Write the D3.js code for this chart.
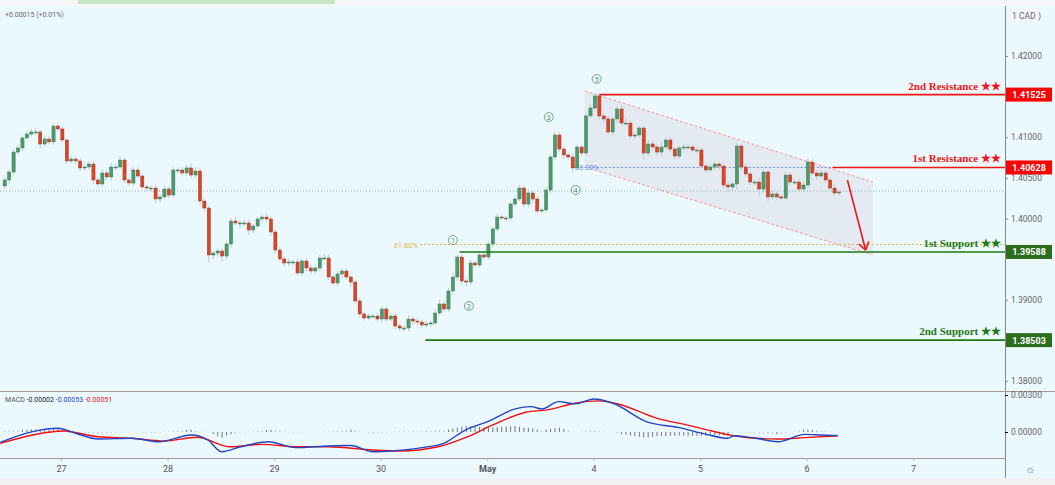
<!DOCTYPE html>
<html><head><meta charset="utf-8">
<script src="https://cdn.jsdelivr.net/npm/d3@7/dist/d3.min.js"></script>
<style>body{margin:0;background:#fff}svg{display:block}</style></head>
<body><svg id="c" width="1055" height="485"></svg>
<script>
const firstOpen = 1.40400;
const closes = [1.40474,1.40572,1.40818,1.40868,1.40991,1.41040,1.41065,1.41065,1.40917,1.40978,1.40942,1.41138,1.41102,1.40966,1.40708,1.40732,1.40708,1.40622,1.40634,1.40671,1.40474,1.40425,1.40560,1.40511,1.40634,1.40634,1.40720,1.40474,1.40437,1.40597,1.40523,1.40388,1.40375,1.40375,1.40240,1.40265,1.40363,1.40289,1.40597,1.40597,1.40560,1.40622,1.40535,1.40585,1.40215,1.40129,1.39551,
1.39575,1.39600,1.39538,1.39686,1.39969,1.39945,1.39945,1.39945,1.39858,1.39908,1.39994,1.40018,1.39994,1.39834,1.39612,1.39502,1.39452,1.39465,1.39465,1.39329,1.39477,1.39391,1.39354,1.39391,1.39514,1.39514,1.39280,1.39206,1.39317,1.39354,1.39280,1.39218,1.38985,1.38825,1.38775,1.38800,1.38800,1.38763,1.38886,1.38763,1.38800,1.38677,1.38652,1.38652,1.38763,1.38738,1.38726,1.38689,1.38702,1.38714,1.38837,1.38948,
1.38886,1.39108,1.39280,1.39526,1.39231,1.39218,1.39452,1.39428,1.39551,1.39526,1.39686,1.39871,1.40018,1.40006,1.40006,1.40178,1.40240,1.40375,1.40178,1.40314,1.40240,1.40092,1.40105,1.40351,1.40757,1.41028,1.40855,1.40782,1.40757,1.40622,1.40880,1.40806,1.41262,1.41360,
1.41508,1.41262,1.41225,1.41065,1.41225,1.41348,1.41175,1.41175,1.41015,1.41028,1.41114,1.40806,1.40917,1.40880,1.40818,1.40880,1.40966,1.40855,1.40769,1.40868,1.40880,1.40880,1.40843,1.40843,1.40646,1.40597,1.40634,1.40671,1.40646,1.40412,1.40388,1.40425,1.40892,1.40634,1.40548,1.40449,1.40449,1.40363,1.40572,1.40265,1.40302,1.40265,1.40252,1.40535,1.40449,1.40449,1.40363,1.40412,1.40695,1.40560,1.40523,1.40560,1.40474,1.40375,1.40314,1.40326];
// wick extensions beyond the body, in pips (0.0001)
const wickUp = [3,4,3,4,3,4,4,5,3,4,3,3,4,4,3,4,3,4,3,4,3,3,4,3,5,4,5,3,3,4,4,3,3,3,4,4,4,3,4,3,4,4,5,5,3,3,3,
3,3,3,4,4,5,3,4,4,3,3,3,4,3,3,4,3,4,3,4,3,4,4,3,4,5,4,3,4,3,3,3,3,4,3,3,3,4,3,3,4,3,3,4,5,3,4,3,4,3,5,6,
4,4,5,3,3,3,4,3,4,4,3,3,4,3,3,3,4,4,4,5,3,3,3,4,3,4,3,3,3,4,3,3,4,4,
2,3,3,4,3,3,5,6,3,3,3,3,5,4,3,5,3,4,3,3,4,3,3,3,3,3,3,3,3,3,4,3,4,3,3,3,3,5,4,3,4,3,3,4,3,3,4,4,5,3,3,4,3,3,4,3];
const wickDn = [4,5,4,3,4,3,3,4,5,4,3,3,3,3,4,3,4,4,3,3,5,4,3,4,5,4,3,4,3,4,3,3,3,4,5,4,3,4,3,4,3,3,4,3,4,4,9,
5,5,7,4,5,3,7,4,6,4,3,4,3,4,4,3,5,4,4,3,4,4,4,3,4,3,4,3,4,5,4,6,3,4,3,3,3,3,4,3,3,4,4,4,4,5,4,4,3,4,3,3,
4,4,4,5,4,6,4,3,3,3,3,4,3,3,4,3,3,3,4,4,5,3,3,3,4,3,4,5,4,6,3,4,3,3,
3,4,5,4,4,5,3,4,4,4,3,8,4,5,4,4,3,4,4,3,3,3,3,3,3,4,3,4,4,4,6,4,7,4,3,4,4,9,4,5,3,4,3,3,4,3,4,4,4,3,4,3,4,3,4,3];
const dayLabels = ["27","28","29","30","May","4","5","6","7"];
const dayIndex = [12.7,36.7,60.7,84.7,108.7,132.7,156.7,180.7,204.7];
const priceTicks = [1.42,1.41,1.405,1.40,1.39,1.38];
const macdPts = [[-1,-0.00084],[6.3,0.00003],[12,0.0003],[16,-0.0001],[21,-0.00057],[28.6,-0.00051],[34.7,-0.00079],[42.1,-0.00024],[45.8,-0.00065],[48.9,-0.0016],[53.2,-0.0012],[59.4,-0.00079],[65.6,-0.00127],[73,-0.00114],[78,-0.0011],[82.9,-0.0016],[87.8,-0.00152],[94,-0.00127],[98.9,-0.00092],[103.8,0.00016],[108.8,0.00084],[115,0.00187],[118.6,0.00206],[121,0.00187],[124.8,0.00246],[128.5,0.00228],[132.8,0.00268],[137.1,0.00233],[144.6,0.00084],[152,0.00035],[158.1,-0.00019],[163,-0.00051],[164.3,-0.0003],[169.2,-0.00051],[174.2,-0.00079],[180.3,-0.00019],[184,-0.00024],[187.7,-0.0003]];
const signalPts = [[-1,-0.00092],[6.3,-0.00024],[13.1,0.00008],[21,-0.00038],[28.6,-0.00051],[35.9,-0.00073],[43.4,-0.00043],[50.8,-0.0012],[58.2,-0.001],[65.6,-0.0012],[73,-0.0012],[82.9,-0.00146],[89,-0.00154],[97.7,-0.0012],[103.8,-0.00046],[110,0.00057],[117.4,0.0016],[122.3,0.00179],[128.5,0.00233],[134,0.00252],[138.4,0.00225],[147,0.00111],[154.4,0.00052],[159.4,0.00008],[164.3,-0.0003],[174.2,-0.00057],[180.3,-0.00046],[187.7,-0.0003]];
const levels = [
 {name:"2nd Resistance ★★", price:1.41525, from:134, color:"#f01414"},
 {name:"1st Resistance ★★", price:1.40628, from:186.5, color:"#f01414"},
 {name:"1st Support ★★", price:1.39588, from:102.5, color:"#1e7a12"},
 {name:"2nd Support ★★", price:1.38503, from:94.8, color:"#1e7a12"}];
const fibPrice = 1.39680, fibLabel = "61.80%";
const fib2Price = 1.40628, fib2Label = "38.20%";
const lastPrice = 1.40338;
const waves = [["1",101,1.39735],["2",104.6,1.38923],["3",122.6,1.41249],["4",128.7,1.40351],["5",133.4,1.41717]];
const channel = {x0:130.7, x1:195.6, top0:1.41569, top1:1.40449, bot0:1.40634, bot1:1.39551};
const arrow = {x0:189.9, p0:1.40474, x1:194, p1:1.39612};

const svg = d3.select("#c");
const X = d3.scaleLinear().domain([0,188]).range([4.7,839]);
const Y = d3.scaleLinear().domain([1.38,1.42]).range([381,56]);
const M = d3.scaleLinear().domain([0,0.003]).range([432,395]);

svg.append("rect").attr("width",1055).attr("height",485).attr("fill","#f4f6f7");
svg.append("rect").attr("x",0).attr("y",6).attr("width",1055).attr("height",472).attr("fill","#ebf8fe");
svg.append("rect").attr("x",78).attr("y",0).attr("width",257).attr("height",4).attr("fill","#c5e6c3");
svg.append("rect").attr("x",0).attr("y",478).attr("width",1055).attr("height",7).attr("fill","#f0f1f2");

svg.append("defs").append("clipPath").attr("id","mc").append("rect").attr("x",0).attr("y",6).attr("width",1005).attr("height",385);
const g = svg.append("g").attr("clip-path","url(#mc)");

const chPoly = [[channel.x0,channel.top0],[channel.x1,channel.top1],[channel.x1,channel.bot1],[channel.x0,channel.bot0]];
g.append("path").attr("d","M"+chPoly.map(d=>X(d[0])+","+Y(d[1])).join("L")+"Z").attr("fill","#e2e5ee").attr("opacity",0.75);
[[0,1],[3,2]].forEach(([a,b])=>g.append("line").attr("x1",X(chPoly[a][0])).attr("y1",Y(chPoly[a][1])).attr("x2",X(chPoly[b][0])).attr("y2",Y(chPoly[b][1])).attr("stroke","#f59a9a").attr("stroke-width",1).attr("stroke-dasharray","3,2"));

g.append("line").attr("x1",0).attr("x2",1005).attr("y1",Y(lastPrice)).attr("y2",Y(lastPrice)).attr("stroke","#8fb0a8").attr("stroke-dasharray","1,2");
g.append("line").attr("x1",420).attr("x2",1005).attr("y1",Y(fibPrice)).attr("y2",Y(fibPrice)).attr("stroke","#d9b84a").attr("stroke-dasharray","2,2");
g.append("text").attr("x",418).attr("y",Y(fibPrice)+3).attr("text-anchor","end").attr("font-size",7.5).attr("font-family","Roboto").attr("fill","#d9b84a").text(fibLabel);
g.append("line").attr("x1",X(128)).attr("x2",X(186.5)).attr("y1",Y(fib2Price)).attr("y2",Y(fib2Price)).attr("stroke","#6b8fd8").attr("stroke-dasharray","2,2");
g.append("text").attr("x",X(128)+2).attr("y",Y(fib2Price)+2.5).attr("font-size",7.5).attr("font-family","Roboto").attr("fill","#6b9ae0").text(fib2Label);

const data = closes.map((c,i)=>{const o=i?closes[i-1]:firstOpen;return {i,o,c,h:Math.max(o,c)+wickUp[i]*0.0001,l:Math.min(o,c)-wickDn[i]*0.0001};});
const cg = g.selectAll(".cd").data(data).join("g");
cg.append("line").attr("x1",d=>X(d.i)).attr("x2",d=>X(d.i)).attr("y1",d=>Y(d.h)).attr("y2",d=>Y(d.l)).attr("stroke","#c2cacd").attr("stroke-width",1);
cg.append("rect").attr("x",d=>X(d.i)-1.6).attr("width",3.2).attr("y",d=>Y(Math.max(d.o,d.c))).attr("height",d=>Math.max(1,Math.abs(Y(d.o)-Y(d.c))))
  .attr("fill",d=>d.c>=d.o?"#4f9a6c":"#d9472b").attr("stroke",d=>d.c>=d.o?"#2f6e44":"#9c2a16").attr("stroke-width",0.4);

levels.forEach(l=>{
  g.append("line").attr("x1",X(l.from)).attr("x2",1005).attr("y1",Y(l.price)).attr("y2",Y(l.price)).attr("stroke",l.color).attr("stroke-width",1.6);
  g.append("text").attr("x",1001).attr("y",Y(l.price)-5).attr("text-anchor","end").attr("font-family","Liberation Serif").attr("font-weight","bold").attr("font-size",11).attr("fill",l.color).text(l.name);
});
waves.forEach(([t,i,p])=>{
  const wg=g.append("g").attr("transform",`translate(${X(i)},${Y(p)})`);
  wg.append("circle").attr("r",4.5).attr("fill","none").attr("stroke","#5a8f68").attr("stroke-width",0.8);
  wg.append("text").attr("y",2.6).attr("text-anchor","middle").attr("font-size",7).attr("font-family","Roboto").attr("fill","#5a8f68").text(t);
});
const ax0=X(arrow.x0),ay0=Y(arrow.p0),ax1=X(arrow.x1),ay1=Y(arrow.p1);
g.append("line").attr("x1",ax0).attr("y1",ay0).attr("x2",ax1).attr("y2",ay1).attr("stroke","#f01414").attr("stroke-width",1.6);
const ang=Math.atan2(ay1-ay0,ax1-ax0);
[0.6,-0.6].forEach(a=>g.append("line").attr("x1",ax1).attr("y1",ay1).attr("x2",ax1-9*Math.cos(ang+a)).attr("y2",ay1-9*Math.sin(ang+a)).attr("stroke","#f01414").attr("stroke-width",1.6));

svg.append("line").attr("x1",1005.5).attr("x2",1005.5).attr("y1",6).attr("y2",478).attr("stroke","#888");
svg.append("line").attr("x1",0).attr("x2",1055).attr("y1",391.5).attr("y2",391.5).attr("stroke","#999");
svg.append("line").attr("x1",0).attr("x2",1005).attr("y1",458.5).attr("y2",458.5).attr("stroke","#999");

const ya = svg.append("g").attr("transform","translate(1005,0)").call(d3.axisRight(Y).tickValues(priceTicks).tickSize(3).tickFormat(d3.format(".5f")));
ya.select(".domain").remove();
ya.selectAll("text").attr("font-size",8.5).attr("font-family","Roboto").attr("fill","#666");
ya.selectAll("line").attr("stroke","#888");
const ma = svg.append("g").attr("transform","translate(1005,0)").call(d3.axisRight(M).tickValues([0,0.003]).tickSize(3).tickFormat(d3.format(".5f")));
ma.select(".domain").remove();
ma.selectAll("text").attr("font-size",8.5).attr("font-family","Roboto").attr("fill","#666");
svg.append("rect").attr("x",1009).attr("y",9).attr("width",34).attr("height",13).attr("rx",2).attr("fill","#f3f5fa");
svg.append("text").attr("x",1012).attr("y",19).attr("font-size",8.5).attr("font-family","Roboto").attr("fill","#666").text("1 CAD ⟩");

levels.forEach(l=>{
  svg.append("rect").attr("x",1006).attr("y",Y(l.price)-7).attr("width",46).attr("height",14).attr("fill",l.color==="#f01414"?"#ff0000":"#2c6e1e");
  svg.append("text").attr("x",1029).attr("y",Y(l.price)+3.5).attr("text-anchor","middle").attr("font-size",9).attr("font-weight","bold").attr("font-family","Roboto").attr("fill","#fff").text(d3.format(".5f")(l.price));
});

const xa = svg.append("g").attr("transform","translate(0,458)").call(d3.axisBottom(X).tickValues(dayIndex).tickSize(3).tickFormat((d,i)=>dayLabels[i]));
xa.select(".domain").remove();
xa.selectAll("text").attr("font-size",9).attr("font-family","Roboto").attr("fill","#555").attr("dy","0.9em").attr("font-weight",(d,i)=>dayLabels[i]==="May"?"bold":"normal");
xa.selectAll("line").attr("stroke","#bbb");
svg.append("text").attr("x",1030).attr("y",473).attr("text-anchor","middle").attr("font-size",11).attr("fill","#777").text("☼");

const mg = svg.append("g");
const hIdx = d3.range(0,189);
const interp = pts=>i=>{for(let k=1;k<pts.length;k++){if(i<=pts[k][0]){const a=pts[k-1],b=pts[k];return a[1]+(b[1]-a[1])*(i-a[0])/(b[0]-a[0]);}}return pts[pts.length-1][1];};
const fm=interp(macdPts), fs=interp(signalPts);
mg.selectAll(".h").data(hIdx).join("line").attr("x1",X).attr("x2",X).attr("y1",M(0)).attr("y2",i=>M(0)-(fm(i)-fs(i))*4000*2.5)
  .attr("stroke",i=>Math.abs(fm(i)-fs(i))>0.0002?"#555":"#aaa").attr("stroke-width",0.8);
const ln = d3.line().x(d=>X(d[0])).y(d=>M(d[1])).curve(d3.curveMonotoneX);
mg.append("path").attr("d",ln(signalPts)).attr("fill","none").attr("stroke","#f01010").attr("stroke-width",1.4);
mg.append("path").attr("d",ln(macdPts)).attr("fill","none").attr("stroke","#2545c0").attr("stroke-width",1.4);

svg.append("text").attr("x",5).attr("y",17).attr("font-size",7).attr("font-family","Roboto").attr("fill","#666").text("+0.00015 (+0.01%)");
const mt = svg.append("text").attr("x",5).attr("y",402).attr("font-size",7).attr("font-family","Roboto");
mt.append("tspan").attr("fill","#555").text("MACD  ");
mt.append("tspan").attr("fill","#222").text("-0.00002  ");
mt.append("tspan").attr("fill","#2545c0").text("-0.00053  ");
mt.append("tspan").attr("fill","#f01010").text("-0.00051");
</script></body></html>
